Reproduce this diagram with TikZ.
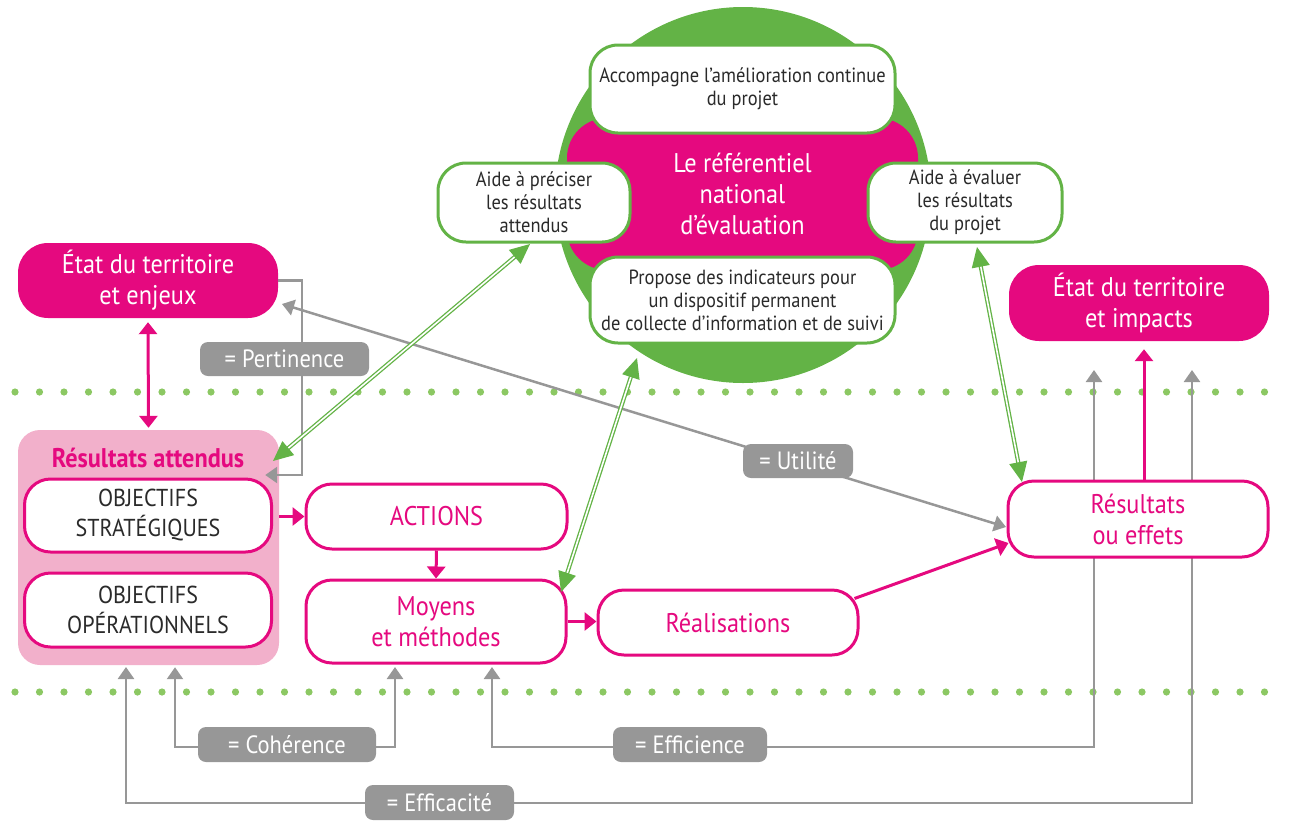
\documentclass[tikz,border=0pt]{standalone}
\usepackage{fontspec}
\setmainfont{PT Sans}[FakeStretch=0.9]
\usetikzlibrary{arrows.meta}
\definecolor{mag}{HTML}{E5097F}
\definecolor{grn}{HTML}{63B346}
\definecolor{dotg}{HTML}{8CC863}
\definecolor{gry}{HTML}{979797}
\definecolor{lpink}{HTML}{F2B0CB}
\definecolor{txt}{HTML}{2A2A2A}
\newcommand\myBig{\fontsize{27}{31}\selectfont}
\newcommand\mySmall{\fontsize{20.5}{23}\selectfont}
\newcommand\myObj{\fontsize{24.5}{30}\selectfont}
\newcommand\myLab{\fontsize{25}{28}\selectfont}
\tikzset{
  wbox/.style={draw=grn, line width=3pt, fill=white, rounded corners=28pt, inner sep=0pt, align=center, text=txt, font=\mySmall},
  mbox/.style={draw=mag, line width=3pt, fill=white, rounded corners=26pt, inner sep=0pt, align=center, text=mag, font=\myBig},
  objbox/.style={draw=mag, line width=3pt, fill=white, rounded corners=26pt, inner sep=0pt, align=center, text=txt, font=\myObj},
  magfill/.style={fill=mag, rounded corners=30pt, inner sep=0pt, align=center, text=white, font=\myBig},
  lab/.style={fill=gry, rounded corners=8pt, text=white, font=\myLab, inner sep=0pt},
  gline/.style={draw=gry, line width=2.5pt},
  gtip/.tip={Triangle[length=12pt,width=16pt]},
  mtip/.tip={Triangle[length=12pt,width=18pt]},
  greentip/.tip={Triangle[length=20pt,width=18pt]},
  mline/.style={draw=mag, line width=3pt},
  dline/.style={draw=grn, double=white, double distance=1.6pt, line width=1.3pt},
}
\begin{document}
\begin{tikzpicture}[x=1pt,y=-1pt]
\useasboundingbox (0,0) rectangle (1291,820);
% dotted separators
\foreach \i in {0,...,51} {
  \fill[dotg] (15+\i*24.5,392) circle[radius=3.6pt];
  \fill[dotg] (15+\i*24.5,692) circle[radius=3.6pt];
}
% green circle and referential
\fill[grn] (743,195) circle[radius=188pt];
\node[magfill, rounded corners=40pt, minimum width=351, minimum height=152] (ref) at (742.5,194) {Le référentiel\\national\\d'évaluation};
\node[wbox, minimum width=305, minimum height=88] (acc) at (742.5,89) {Accompagne l'amélioration continue\\du projet};
\node[wbox, minimum width=192, minimum height=79] (prec) at (534,202.5) {Aide à préciser\\les résultats\\attendus};
\node[wbox, minimum width=194, minimum height=79] (eval) at (965,202.5) {Aide à évaluer\\les résultats\\du projet};
\node[wbox, minimum width=305, minimum height=86] (prop) at (742.5,300) {Propose des indicateurs pour\\un dispositif permanent\\de collecte d'information et de suivi};
% territory boxes
\node[magfill, minimum width=260, minimum height=75] (enjeux) at (148,280.5) {État du territoire\\et enjeux};
\node[magfill, minimum width=260, minimum height=76] (impacts) at (1139,303) {État du territoire\\et impacts};
% gray connector coordinates
\coordinate (pc) at (302,475);
\coordinate (u1) at (282,304);
\coordinate (u2) at (1006,527);
\coordinate (cL) at (175,747);
\coordinate (cR) at (395,747);
\coordinate (eL) at (492,747);
\coordinate (eR) at (1094,747);
\coordinate (eT) at (1094,370);
\coordinate (fL) at (126,803);
\coordinate (fR) at (1192,803);
\coordinate (fT) at (1192,370);
% lower part
\node[fill=lpink, rounded corners=22pt, minimum width=261, minimum height=235, inner sep=0pt] (group) at (148.5,547.5) {};
\draw[gline, -{gtip}] (enjeux.east) -| (pc) -- ([xshift=-14pt]group.east |- pc);
\draw[gline, {gtip}-{gtip}] (u1) -- (u2);
\draw[gline, {gtip}-{gtip}] (group.south -| cL) ++(0,2) -- (cL) -- (cR) -- ([yshift=-4pt]cR |- 0,663);
\draw[gline, {gtip}-{gtip}] (492,667) -- (eL) -- (eR) -- (eT);
\draw[gline, {gtip}-{gtip}] (126,667) -- (fL) -- (fR) -- (fT);
\node[font=\fontsize{27}{30}\selectfont\bfseries, text=mag] (ratt) at (148,458) {Résultats attendus};
\node[objbox, minimum width=247, minimum height=73] (strat) at (148,515.5) {OBJECTIFS\\STRATÉGIQUES};
\node[objbox, minimum width=247, minimum height=74] (oper) at (148,610) {OBJECTIFS\\OPÉRATIONNELS};
\node[mbox, minimum width=261, minimum height=65] (actions) at (436.5,516.5) {ACTIONS};
\node[mbox, minimum width=260, minimum height=83] (moyens) at (436,621.5) {Moyens\\et méthodes};
\node[mbox, minimum width=260, minimum height=65] (real) at (728,622.5) {Réalisations};
\node[mbox, minimum width=260, minimum height=76] (effets) at (1138,519) {Résultats\\ou effets};
% magenta arrows
\draw[mline, {mtip}-{mtip}] ([yshift=-4pt]enjeux.south) -- ([yshift=2pt]group.north);
\draw[mline, -{mtip}] (group.east |- actions.west) -- (actions.west);
\draw[mline, -{mtip}] (actions.south) -- (moyens.north);
\draw[mline, -{mtip}] (moyens.east) -- (real.west |- moyens.east);
\draw[mline, -{mtip}] ([xshift=-5pt,yshift=-10pt]real.north east) -- ([xshift=2pt,yshift=-24pt]effets.west);
\draw[mline, -{mtip}] (effets.north -| 1144,0) -- ([yshift=-8pt]impacts.south -| 1144,0);
% green double arrows
\coordinate (ga1) at (273,461);
\coordinate (ga2) at (530,244);
\coordinate (gb1) at (561,592);
\coordinate (gb2) at (637,358);
\coordinate (gc1) at (977,247);
\coordinate (gc2) at (1022,482);
\draw[dline, {greentip[fill=grn]}-{greentip[fill=grn]}] (ga1) -- (ga2);
\draw[dline, {greentip[fill=grn]}-{greentip[fill=grn]}] (gb1) -- (gb2);
\draw[dline, {greentip[fill=grn]}-{greentip[fill=grn]}] (gc1) -- (gc2);
% labels
\node[lab, minimum width=169, minimum height=34] (pert) at (284.5,359) {= Pertinence};
\node[lab, minimum width=110, minimum height=34] (util) at (798,461) {= Utilité};
\node[lab, minimum width=178, minimum height=35] (coh) at (287,744.5) {= Cohérence};
\node[lab, minimum width=154, minimum height=35] (effic) at (690,744.5) {= Efficience};
\node[lab, minimum width=149, minimum height=35] (effca) at (439.5,802.5) {= Efficacité};
\end{tikzpicture}
\end{document}
